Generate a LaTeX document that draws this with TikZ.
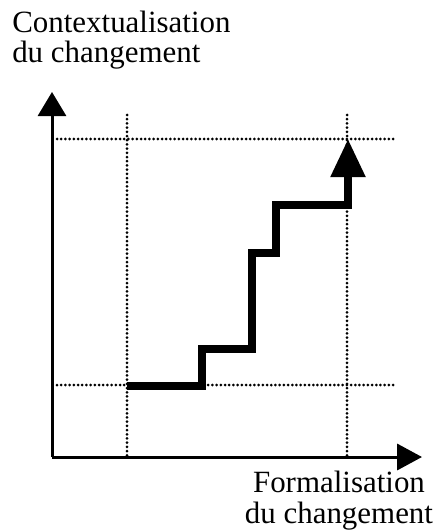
\documentclass[tikz,border=0pt]{standalone}
\usepackage{fontspec}
\setmainfont{Liberation Serif}
\usetikzlibrary{arrows.meta}

\begin{document}
\begin{tikzpicture}[
  x=0.025cm, y=-0.025cm,
  axis/.style={line width=0.075cm},
  guide/.style={line width=0.075cm, line cap=round, dash pattern=on 0pt off 0.105cm},
  stairs/.style={line width=0.19cm, line join=miter},
  every node/.style={font=\fontsize{22}{21.5}\selectfont, inner sep=0pt},
]
\useasboundingbox (0,0) rectangle (441,531);

%% Axis end points
\coordinate (O)    at (52,457);
\coordinate (ytop) at (52,92);
\coordinate (xend) at (422,457);

%% Guide end points
\coordinate (vAtop) at (127,115);
\coordinate (vAbot) at (127,457);
\coordinate (vBtop) at (347,115);
\coordinate (vBbot) at (347,457);
\coordinate (hAleft)  at (57,139);
\coordinate (hAright) at (397,139);
\coordinate (hBleft)  at (57,385);
\coordinate (hBright) at (397,385);

%% Dotted guides
\draw[guide] (vAtop) -- (vAbot);
\draw[guide] (vBtop) -- (vBbot);
\draw[guide] (hAleft) -- (hAright);
\draw[guide] (hBleft) -- (hBright);

%% Axes
\draw[axis, -{Triangle[length=0.6cm, width=0.7cm]}] (O) -- (ytop);
\draw[axis, -{Triangle[length=0.62cm, width=0.65cm]}] (O) -- (xend);

%% Staircase
\coordinate (start) at (127,386);
\coordinate (goal)  at (348,139);
\draw[stairs, -{Triangle[length=0.95cm, width=0.83cm]}]
  (start) -- (202,386) -- (202,349) -- (252,349) -- (252,253)
  -- (276,253) -- (276,205) -- (348,205) -- (goal);

%% Axis labels
\node[anchor=base west, align=left] (ylab) at (12,63)
  {Contextualisation\\du changement};
\node[anchor=base, align=center] (xlab) at (339,523)
  {Formalisation\\du changement};

\end{tikzpicture}
\end{document}
